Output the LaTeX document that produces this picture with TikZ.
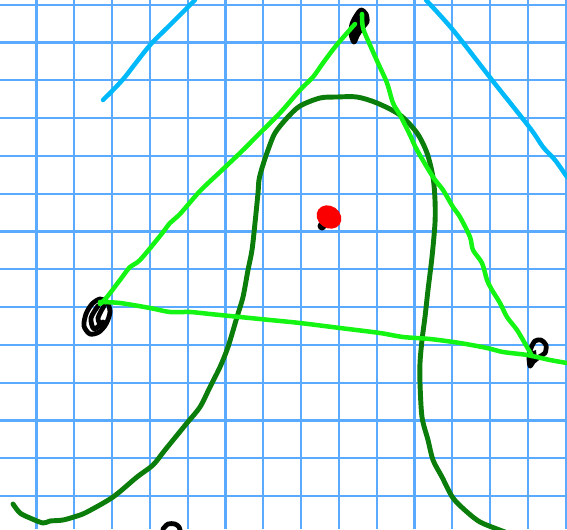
\documentclass[tikz,border=0pt]{standalone}
\usepackage{tikz}
\usetikzlibrary{calc}
\definecolor{GridBlue}{RGB}{90, 170, 255}
\definecolor{SkyCyan}{RGB}{0, 185, 250}
\definecolor{LimeGreen}{RGB}{20, 245, 20}
\definecolor{DarkLeaf}{RGB}{10, 125, 10}
\definecolor{DotRed}{RGB}{250, 0, 0}

\begin{document}
\begin{tikzpicture}[x=0.02646cm, y=-0.02646cm,
    gridline/.style={GridBlue, line width=1.6pt},
    pen/.style={line width=3.4pt, line cap=round, line join=round},
    scribble/.style={pen, black, line width=3.6pt}]
    % Marco
    \useasboundingbox (0,0) rectangle (567,529);
    \fill[white] (0,0) rectangle (567,529);
    \clip (0,0) rectangle (567,529);

    % Cuadricula
    \foreach \i in {0,...,14}
      \draw[gridline] ({36.5+37.8*\i},0) -- ++(0,529);
    \foreach \j in {0,...,13}
      \draw[gridline] (0,{4.7+37.8*\j}) -- ++(567,0);

    % Lineas cian
    \draw[pen, SkyCyan] plot[smooth] coordinates {(103,100) (115,88) (125,77) (135,64) (151,44) (170,25) (188,7) (195,0)};
    \draw[pen, SkyCyan] plot[smooth] coordinates {(426,0) (453,30) (492,80) (530,128) (543,147) (555,160) (567,177)};

    % Campana
    \draw[pen, DarkLeaf, line width=3.7pt] plot[smooth, tension=0.5] coordinates {
      (13,504) (20,513) (30,518) (43,523) (50,521) (63,520) (77,516) (87,512)
      (113,497) (137,477) (153,465) (165,450) (187,423) (200,407) (210,387)
      (220,367) (228,347) (237,317) (243,297) (248,270) (252,250) (255,223)
      (258,193) (259,180) (262,168) (268,150) (275,133) (287,118) (300,106)
      (320,98) (337,97) (357,97) (377,103) (400,115) (417,133) (427,153)
      (433,177) (435,200) (435,223) (432,257) (428,290) (425,317) (422,340)
      (420,363) (420,383) (422,417) (428,440) (433,460) (442,477) (453,498)
      (467,512) (480,522) (497,529) (505,532)};

    % Vertices
    \fill[black] plot[smooth cycle] coordinates {(356,16) (361,10) (366,14) (367,22) (362,28) (357,36) (354,42) (351,34) (352,24)};
    \draw[scribble] plot[smooth cycle] coordinates {(356,16) (361,10) (366,14) (367,22) (362,28) (357,36) (354,42) (351,34) (352,24)};
    \draw[scribble] plot[smooth cycle] coordinates {(100,299) (92,304) (86,314) (84,326) (90,334) (99,332) (106,324) (110,312) (107,302)};
    \draw[scribble] plot[smooth] coordinates {(98,306) (91,318) (94,329) (103,322)};
    \draw[scribble] plot[smooth] coordinates {(104,306) (98,318) (101,326)};
    \draw[scribble] plot[smooth cycle] coordinates {(531,348) (535,341) (541,340) (546,345) (545,353) (539,357) (533,362) (530,366) (529,356)};
    \fill[black] (530,352) -- (536,350) -- (537,360) -- (531,366) -- cycle;
    \draw[scribble] plot[smooth] coordinates {(163,529) (168,524) (175,524) (179,527) (180,530)};

    % Triangulo
    \draw[pen, LimeGreen] plot[smooth, tension=0.5] coordinates {
      (355,24) (347,33) (335,47) (323,63) (313,77) (300,90) (280,113) (260,133)
      (240,153) (220,172) (200,191) (180,214) (170,223) (160,236) (140,260)
      (130,267) (120,280) (107,297) (100,304)};
    \draw[pen, LimeGreen] plot[smooth, tension=0.5] coordinates {
      (100,302) (120,303) (150,308) (170,312) (190,312) (210,314) (230,316)
      (250,318) (270,320) (300,323) (340,328) (380,333) (403,337) (430,339)
      (460,343) (487,348) (503,352) (527,355) (550,360) (567,363)};
    \draw[pen, LimeGreen] plot[smooth, tension=0.5] coordinates {
      (362,14) (363,28) (370,45) (378,63) (387,83) (393,103) (400,115) (410,135)
      (417,150) (433,177) (443,190) (453,207) (460,217) (470,237) (473,250)
      (482,263) (487,280) (492,290) (500,303) (507,317) (517,330) (527,347)
      (532,356)};

    % Punto rojo
    \fill[black] (322,226) circle (4.5);
    \fill[DotRed, rotate around={-35:(329,217)}] (329,217) ellipse (13 and 11);
  \end{tikzpicture}
\end{document}
